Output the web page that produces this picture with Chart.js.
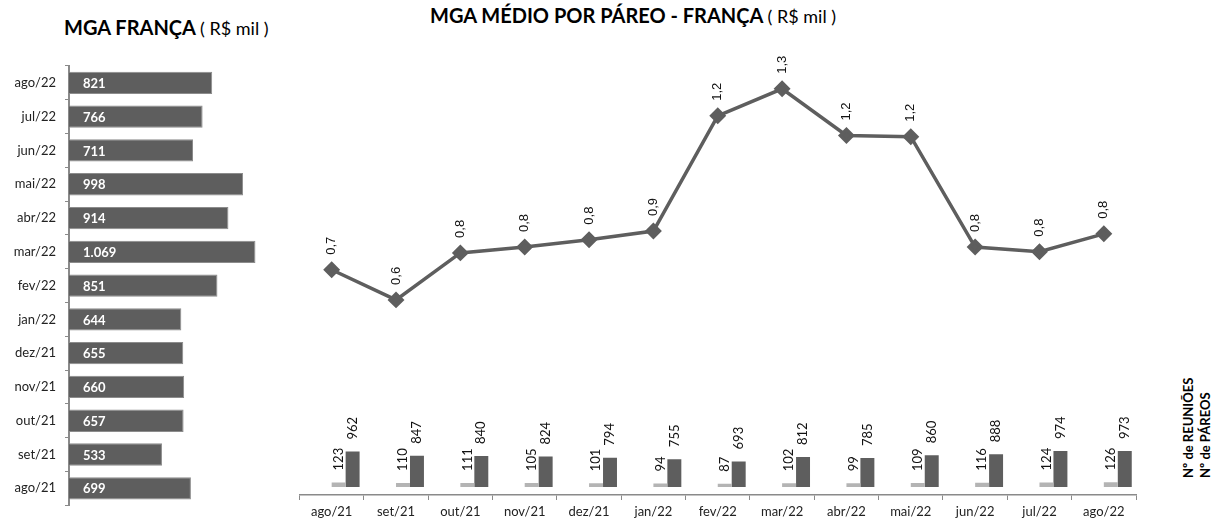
<!DOCTYPE html>
<html><head><meta charset="utf-8">
<script src="https://cdn.jsdelivr.net/npm/chart.js@4"></script>
<style>
html,body{margin:0;padding:0;background:#fff;}
body{width:1213px;height:522px;position:relative;overflow:hidden;font-family:Lato,sans-serif;}
.t{position:absolute;white-space:nowrap;color:#000;line-height:1;}
.t b{font-weight:700;}
.t span{font-weight:400;}
#leftWrap{position:absolute;left:0;top:0;width:290px;height:522px;}
#rightWrap{position:absolute;left:290px;top:0;width:880px;height:522px;}
.vl{position:absolute;transform-origin:0 0;transform:rotate(-90deg);font:bold 13px Lato,sans-serif;white-space:nowrap;line-height:14px;color:#000;}
</style></head>
<body>
<div class="t" style="left:64px;top:17px"><b style="font-size:20px">MGA FRANÇA</b> <span style="font-size:18px">( R$ mil )</span></div>
<div class="t" style="left:430px;top:5px"><b style="font-size:20px">MGA MÉDIO POR PÁREO - FRANÇA</b> <span style="font-size:18px">( R$ mil )</span></div>
<div id="leftWrap"><canvas id="c1" width="290" height="522"></canvas></div>
<div id="rightWrap"><canvas id="c2" width="880" height="522"></canvas></div>
<div class="vl" style="left:1181px;top:478px">Nº de REUNIÕES</div>
<div class="vl" style="left:1198px;top:478px">Nº de PÁREOS</div>
<script>
const months = ['ago/21','set/21','out/21','nov/21','dez/21','jan/22','fev/22','mar/22','abr/22','mai/22','jun/22','jul/22','ago/22'];
const mgaFranca = [699,533,657,660,655,644,851,1069,914,998,711,766,821];
const mgaMedio = [0.727,0.629,0.782,0.801,0.825,0.853,1.228,1.316,1.164,1.160,0.801,0.786,0.844];
const reunioes = [123,110,111,105,101,94,87,102,99,109,116,124,126];
const pareos = [962,847,840,824,794,755,693,812,785,860,888,974,973];

const DARK = '#5e5e5e';
const LIGHT = '#b4b4b4';
const AXIS = '#8a8a8a';

function fmtThousands(v){ return String(v).replace(/\B(?=(\d{3})+(?!\d))/g,'.'); }
function fmt1(v){ return v.toFixed(1).replace('.',','); }

const leftLabels = {
  id:'leftLabels',
  afterDatasetsDraw(chart){
    const ctx = chart.ctx; const meta = chart.getDatasetMeta(0);
    ctx.save();
    ctx.font = 'bold 13px Lato'; ctx.fillStyle = '#fff';
    ctx.textAlign = 'left'; ctx.textBaseline = 'middle';
    meta.data.forEach((bar,i)=>{ ctx.fillText(fmtThousands(mgaFranca[i]), bar.base + 14, bar.y + 1); });
    ctx.restore();
  }
};

new Chart(document.getElementById('c1'), {
  type:'bar',
  data:{ labels: months, datasets:[{ data: mgaFranca, backgroundColor: DARK, borderColor:'#8c8c8c', borderWidth:1, categoryPercentage:0.66, barPercentage:1 }] },
  options:{
    indexAxis:'y', responsive:false, animation:false, devicePixelRatio:1,
    layout:{ padding:{ top:66, bottom:0, left:0, right:0 } },
    plugins:{ legend:{display:false}, tooltip:{enabled:false} },
    scales:{
      x:{ display:false, min:0, max:1267 },
      y:{ reverse:true,
          grid:{ offset:true, drawOnChartArea:false, drawTicks:true, tickLength:4, color:AXIS },
          border:{ display:true, color:AXIS, width:2 },
          ticks:{ font:{family:'Lato', size:13}, color:'#222', padding:9, autoSkip:false },
          afterFit(s){ s.width = 69; } }
    }
  },
  plugins:[leftLabels]
});

const rightLabels = {
  id:'rightLabels',
  afterDatasetsDraw(chart){
    const ctx = chart.ctx;
    ctx.save();
    ctx.fillStyle = '#111'; ctx.textAlign = 'left'; ctx.textBaseline = 'middle';
    ctx.font = '13px "Liberation Sans"';
    chart.getDatasetMeta(0).data.forEach((p,i)=>{
      ctx.save(); ctx.translate(p.x, p.y - 15); ctx.rotate(-Math.PI/2); ctx.fillText(fmt1(mgaMedio[i]),0,0); ctx.restore();
    });
    ctx.font = '13px Lato';
    [[3,reunioes],[4,pareos]].forEach(([di,arr])=>{
      chart.getDatasetMeta(di).data.forEach((b,i)=>{
        ctx.save(); ctx.translate(b.x, b.y - 12); ctx.rotate(-Math.PI/2); ctx.fillText(String(arr[i]),0,0); ctx.restore();
      });
    });
    ctx.restore();
  }
};

new Chart(document.getElementById('c2'), {
  type:'bar',
  data:{ labels: months, datasets:[
    { type:'line', label:'MGA médio por páreo', data: mgaMedio, yAxisID:'yl', borderColor: DARK, borderWidth:3.5,
      pointStyle:'rectRot', pointRadius:6, pointBackgroundColor: DARK, pointBorderColor: DARK, tension:0, order:0 },
    { label:'', data:[], yAxisID:'yb', order:1 },
    { label:'', data:[], yAxisID:'yb', order:1 },
    { label:'Nº de REUNIÕES', data: reunioes, yAxisID:'yb', backgroundColor: LIGHT, order:1 },
    { label:'Nº de PÁREOS', data: pareos, yAxisID:'yb', backgroundColor: DARK, order:1 }
  ]},
  options:{
    responsive:false, animation:false, devicePixelRatio:1,
    datasets:{ bar:{ categoryPercentage:0.868, barPercentage:1 } },
    layout:{ padding:{ top:63, bottom:0, left:7.5, right:34 } },
    plugins:{ legend:{display:false}, tooltip:{enabled:false} },
    scales:{
      x:{ type:'category', offset:true,
          grid:{ offset:true, drawOnChartArea:false, drawTicks:true, tickLength:5, color:AXIS },
          border:{ display:true, color:AXIS, width:1.5 },
          ticks:{ font:{family:'Lato', size:13}, color:'#222', padding:4, maxRotation:0, autoSkip:false },
          afterFit(s){ s.height = 27; } },
      yl:{ type:'linear', display:false, min:-0.006, max:1.4 },
      yb:{ type:'linear', display:false, min:-217, max:11489 }
    }
  },
  plugins:[rightLabels]
});
</script>
</body></html>
